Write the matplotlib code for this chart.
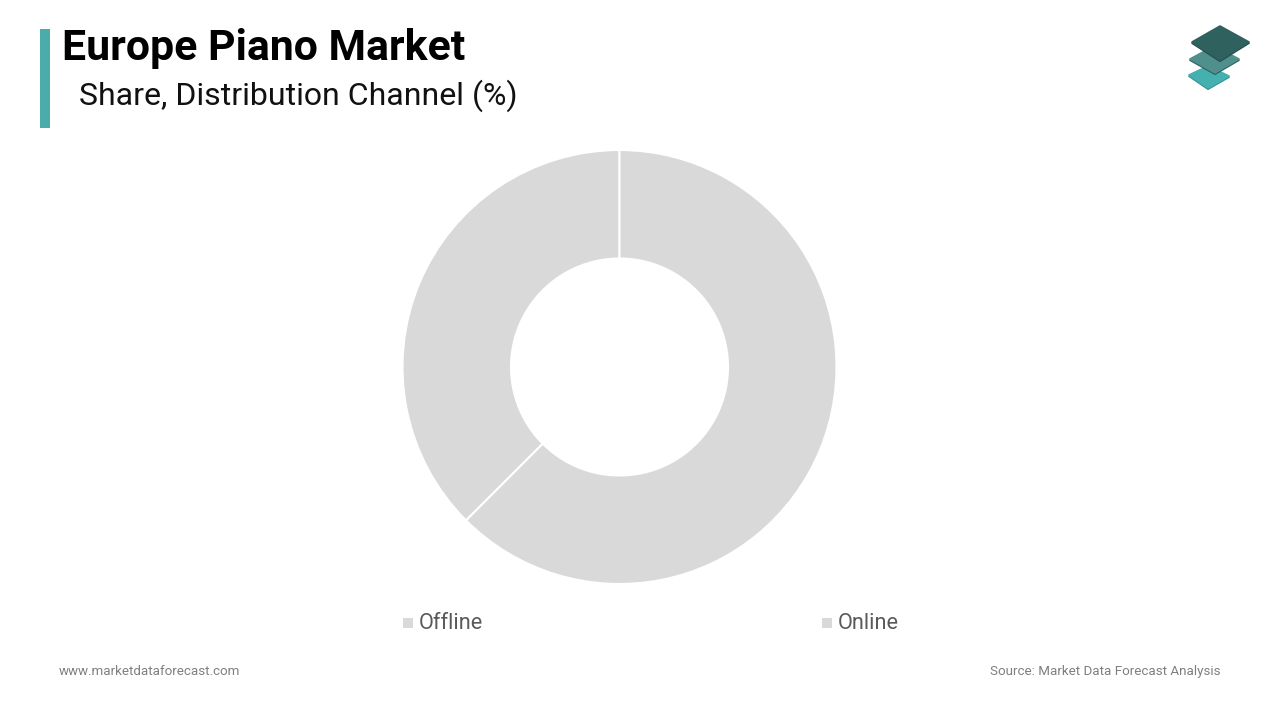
import matplotlib
matplotlib.use("Agg")
import matplotlib.pyplot as plt
from matplotlib.patches import Polygon, Rectangle

plt.rcParams['font.family'] = ['Roboto', 'DejaVu Sans']

title = "Europe Piano Market"
subtitle = "Share, Distribution Channel (%)"
channels = ['Offline', 'Online']
shares = [37.5, 62.5]
slice_colors = ['#d9d9d9', '#d9d9d9']
footer_left = "www.marketdataforecast.com"
footer_right = "Source: Market Data Forecast Analysis"

W, H = 1280, 720


def plate(ax, pts, color, edge):
    # thin darker lip under each plate, then the plate itself
    lip = [(x, y + 1.2) for x, y in pts]
    ax.add_patch(Polygon(lip, facecolor=edge, edgecolor=edge, lw=1.2, joinstyle='round'))
    ax.add_patch(Polygon(pts, facecolor=color, edgecolor=color, lw=1.2, joinstyle='round'))


def main():
    fig = plt.figure(figsize=(W / 100, H / 100), dpi=100, facecolor='white')

    # overlay in pixel coordinates for the page furniture
    page = fig.add_axes([0, 0, 1, 1])
    page.set_xlim(0, W)
    page.set_ylim(H, 0)
    page.axis('off')

    page.add_patch(Rectangle((40, 29), 10, 99, color='#4bacac', lw=0))
    page.text(62, 60, title, fontsize=30.8, fontweight='bold', color='black', va='baseline')
    page.text(79, 104.4, subtitle, fontsize=23.05, color='#111111', va='baseline')

    # logo, three stacked plates
    plate(page, [(1189, 75), (1208, 66), (1229, 76), (1208, 88)], '#45b0b0', '#3a8f8f')
    plate(page, [(1190, 59), (1214, 46), (1239, 59), (1215, 73)], '#4f8f8c', '#2f5f5c')
    plate(page, [(1192, 42), (1220, 26), (1249, 42), (1220, 60)], '#2f625f', '#234b49')

    # donut, centre (619.5, 367), radius 217 px
    cx, cy, r = 619.5, 367, 217
    ax = fig.add_axes([(cx - r) / W, 1 - (cy + r) / H, 2 * r / W, 2 * r / H])
    ax.pie(shares, colors=slice_colors, startangle=90, counterclock=True, radius=1,
           wedgeprops={'width': 108.5 / 217, 'edgecolor': 'white', 'linewidth': 1.5})
    ax.set_xlim(-1, 1)
    ax.set_ylim(-1, 1)

    # legend
    for name, x in zip(channels, [403, 822]):
        page.add_patch(Rectangle((x, 618), 10, 10, color='#d9d9d9', lw=0))
        page.text(x + 16, 629, name, fontsize=15.6, color='#595959', va='baseline')

    page.text(59, 675, footer_left, fontsize=9.6, color='#7f7f7f', va='baseline')
    page.text(1220, 675, footer_right, fontsize=9.6, color='#7f7f7f', va='baseline', ha='right')

    fig.savefig('out.png', dpi=100)


if __name__ == '__main__':
    main()
